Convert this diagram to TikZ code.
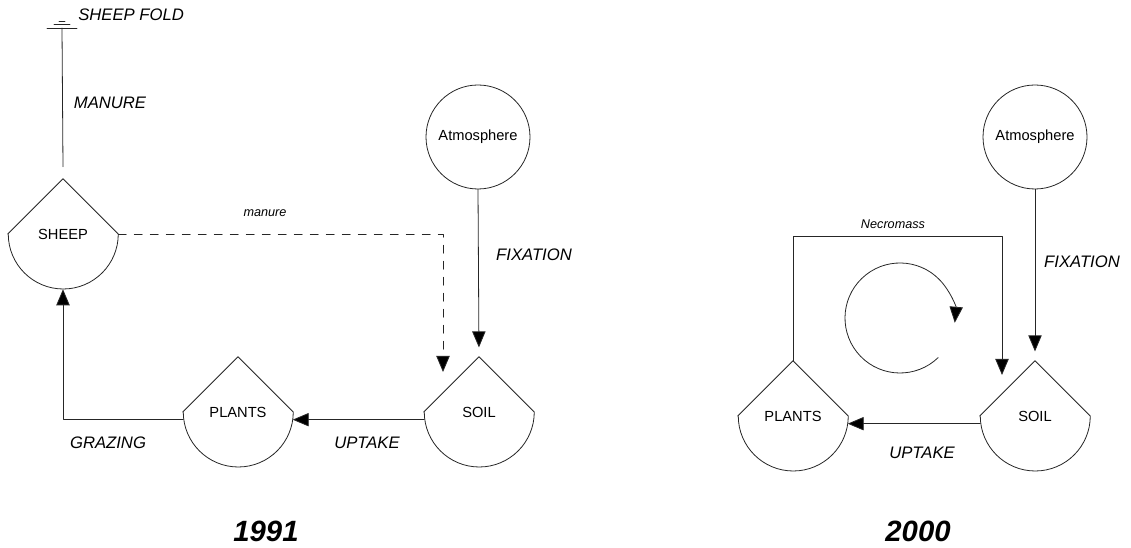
\documentclass[tikz,border=0pt]{standalone}
\usepackage{fontspec}
\setmainfont{Liberation Sans}
\usetikzlibrary{arrows.meta}

\begin{document}
\begin{tikzpicture}[x=0.75pt,y=0.75pt,line cap=round,line join=round,
  flow/.style={draw=black!85,line width=0.6pt},
  tip/.style={-{Triangle[length=12pt,width=10pt,fill=black]}},
  pool/.style={circle,minimum size=82.5pt,inner sep=0pt,font=\fontsize{11}{13}\selectfont},
  store/.style={circle,draw=black!85,line width=0.6pt,minimum size=78pt,inner sep=0pt,font=\fontsize{11}{13}\selectfont},
  lbl/.style={inner sep=0pt,font=\fontsize{12.5}{14}\selectfont\itshape},
  small/.style={inner sep=0pt,font=\fontsize{9.5}{11}\selectfont\itshape},
  year/.style={inner sep=0pt,font=\fontsize{22}{26}\selectfont\bfseries\itshape}]
  \useasboundingbox (0,0) rectangle (1131,548);

  % 1991
  \node[pool] (sheep) at (63,314) {SHEEP};
  \node[pool] (plants) at (238,136) {PLANTS};
  \node[pool] (soil) at (479,136) {SOIL};
  \node[store] (atmos) at (478,411) {Atmosphere};
  \coordinate (fold) at (62,520);
  \coordinate (dashend) at (443,176);

  \draw[flow] ([yshift=9pt]sheep.north) -- (fold);
  \draw[flow] (fold) ++(-15,0) -- ++(30,0);
  \draw[flow] (fold) ++(-8,3.5) -- ++(16,0);
  \draw[flow] (fold) ++(-3,7) -- ++(6,0);
  \draw[flow,tip,dash pattern=on 6pt off 6pt] (sheep.east) -| (dashend);
  \draw[flow,tip,shorten >=7pt] (atmos.south) -- (soil.north);
  \draw[flow,tip] (soil.188) -- (plants.-8);
  \draw[flow,tip] (plants.188) -| (sheep.south);

  \node[lbl,anchor=west] (foldlbl) at (78,533) {SHEEP FOLD};
  \node[lbl] (manlbl) at (110,445) {MANURE};
  \node[small] (dunglbl) at (265,335) {manure};
  \node[lbl] (fixlbl) at (534,293) {FIXATION};
  \node[lbl] (grazlbl) at (108,105) {GRAZING};
  \node[lbl] (uplbl) at (367,105) {UPTAKE};
  \node[year] (yeara) at (266,17) {1991};

  % 2000
  \node[pool] (plantsb) at (793,132) {PLANTS};
  \node[pool] (soilb) at (1035,132) {SOIL};
  \node[store] (atmosb) at (1035,411) {Atmosphere};
  \coordinate (necend) at (1002,173);

  \draw[flow,tip,shorten >=7pt] (atmosb.south) -- (soilb.north);
  \draw[flow,tip] (soilb.188) -- (plantsb.-8);
  \draw[flow,tip] (plantsb.north) -- ++(0,124) -| (necend);
  \draw[flow,tip] (900,230) ++(-46:55) arc[start angle=-46,end angle=-365,radius=55];

  \node[small] (necrlbl) at (893,324) {Necromass};
  \node[lbl] (fixlblb) at (1082,286) {FIXATION};
  \node[lbl] (uplblb) at (922,95) {UPTAKE};
  \node[year] (yearb) at (918,17) {2000};

  % pool outlines
  \foreach \p in {sheep,plants,soil,plantsb,soilb}
    \draw[flow] (\p.west) -- (\p.north) -- (\p.east) arc[start angle=0,end angle=-180,radius=55];
\end{tikzpicture}
\end{document}
